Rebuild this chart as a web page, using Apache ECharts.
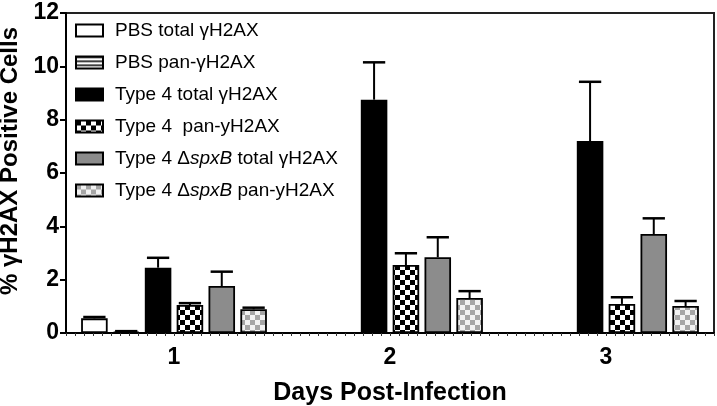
<!DOCTYPE html>
<html><head><meta charset="utf-8">
<script src="https://cdn.jsdelivr.net/npm/echarts@6/dist/echarts.min.js"></script>
<style>html,body{margin:0;padding:0;background:#fff}#c{width:717px;height:406px}</style>
</head><body><div id="c"></div>
<script>
var categories = ['1', '2', '3'];
var seriesNames = ['PBS total γH2AX', 'PBS pan-γH2AX', 'Type 4 total γH2AX', 'Type 4  pan-yH2AX', 'Type 4 ΔspxB total γH2AX', 'Type 4 ΔspxB pan-yH2AX'];
var pbsTotal = [0.55, null, null];
var pbsTotalErr = [0.6, null, null];
var pbsPan = [0.05, null, null];
var pbsPanErr = [0.07, null, null];
var t4Total = [2.45, 8.75, 7.2];
var t4TotalErr = [2.82, 10.15, 9.42];
var t4Pan = [1.05, 2.55, 1.09];
var t4PanErr = [1.12, 2.99, 1.34];
var dTotal = [1.76, 2.84, 3.71];
var dTotalErr = [2.3, 3.59, 4.3];
var dPan = [0.89, 1.31, 1.01];
var dPanErr = [0.95, 1.57, 1.2];
var yTicks = [0, 2, 4, 6, 8, 10, 12];

function pattern(size, draw) {
  var c = document.createElement('canvas');
  c.width = size; c.height = size;
  var ctx = c.getContext('2d');
  draw(ctx, size);
  return { image: c, repeat: 'repeat' };
}
var checkerBlack = pattern(10, function (ctx, s) {
  ctx.fillStyle = '#fff'; ctx.fillRect(0, 0, s, s);
  ctx.fillStyle = '#000'; ctx.fillRect(0, 0, 5, 5); ctx.fillRect(5, 5, 5, 5);
});
var checkerGray = pattern(10, function (ctx, s) {
  ctx.fillStyle = '#f2f2f2'; ctx.fillRect(0, 0, s, s);
  ctx.fillStyle = '#a6a6a6'; ctx.fillRect(0, 0, 5, 5); ctx.fillRect(5, 5, 5, 5);
});
var stripes = pattern(4, function (ctx, s) {
  ctx.fillStyle = '#fff'; ctx.fillRect(0, 0, s, s);
  ctx.fillStyle = '#000'; ctx.fillRect(0, 0, s, 1.5);
});

var values = [pbsTotal, pbsPan, t4Total, t4Pan, dTotal, dPan];
var errs = [pbsTotalErr, pbsPanErr, t4TotalErr, t4PanErr, dTotalErr, dPanErr];
var fills = ['#fff', stripes, '#000', checkerBlack, '#8c8c8c', checkerGray];
var BAR_GAP = 0.2, CAT_GAP = 0.14, N = 6;

var series = values.map(function (v, i) {
  return {
    name: seriesNames[i], type: 'bar', data: v,
    barGap: '20%', barCategoryGap: '14%',
    itemStyle: { color: fills[i], borderColor: '#000', borderWidth: 1.8 },
    z: 3
  };
});

var errData = [];
errs.forEach(function (e, si) {
  e.forEach(function (val, ci) {
    if (val != null && values[si][ci] != null) errData.push([ci, si, values[si][ci], val]);
  });
});
series.push({
  type: 'custom', name: 'err', data: errData, z: 2, silent: true,
  encode: { x: 0, y: 3 },
  renderItem: function (params, api) {
    var ci = api.value(0), si = api.value(1);
    var base = api.coord([ci, api.value(2)]);
    var top = api.coord([ci, api.value(3)]);
    var band = api.size([1, 0])[0];
    var remain = band * (1 - CAT_GAP);
    var bw = remain / (N + (N - 1) * BAR_GAP);
    var total = N * bw + (N - 1) * bw * BAR_GAP;
    var x = base[0] - total / 2 + si * bw * (1 + BAR_GAP) + bw / 2;
    var cap = bw * 0.42;
    return {
      type: 'group', children: [
        { type: 'line', shape: { x1: x, y1: base[1], x2: x, y2: top[1] }, style: { stroke: '#000', lineWidth: 2 } },
        { type: 'line', shape: { x1: x - cap, y1: top[1], x2: x + cap, y2: top[1] }, style: { stroke: '#000', lineWidth: 2.5 } }
      ]
    };
  }
});

var chart = echarts.init(document.getElementById('c'), null, { renderer: 'canvas' });
chart.setOption({
  animation: false,
  backgroundColor: '#fff',
  textStyle: { fontFamily: 'Liberation Sans, Arial, sans-serif' },
  grid: { left: 66, right: 3, top: 13, bottom: 73, show: true, borderColor: '#222', borderWidth: 2,
    containLabel: false, outerBoundsMode: 'none' },
  legend: {
    data: seriesNames, orient: 'vertical', left: 75, top: 21, padding: 0,
    itemWidth: 27, itemHeight: 12, itemGap: 13, icon: 'rect',
    textStyle: {
      fontSize: 19, color: '#000', lineHeight: 19, padding: [0, 0, 0, 7],
      rich: { n: { fontSize: 19, color: '#000' }, i: { fontSize: 19, color: '#000', fontStyle: 'italic' } }
    },
    formatter: function (name) {
      if (name.indexOf('ΔspxB') >= 0) {
        var p = name.split('spxB');
        return '{n|' + p[0] + '}{i|spxB}{n|' + p[1] + '}';
      }
      return name;
    }
  },
  xAxis: [{
    type: 'category', data: categories,
    name: 'Days Post-Infection', nameLocation: 'middle', nameGap: 48,
    nameTextStyle: { fontSize: 25, fontWeight: 'bold', color: '#000' },
    axisLine: { lineStyle: { color: '#000', width: 2 } },
    axisTick: { alignWithLabel: true, length: 7, lineStyle: { color: '#000', width: 2 } },
    axisLabel: { fontSize: 23, fontWeight: 'bold', color: '#000', margin: 13 }
  }, {
    type: 'value', min: 0, max: 72, interval: 1, position: 'bottom',
    axisLine: { show: false }, axisLabel: { show: false }, splitLine: { show: false },
    axisTick: { length: 3, lineStyle: { color: '#333', width: 1 } }
  }],
  yAxis: {
    type: 'value', min: 0, max: 12, interval: 2,
    name: '% γH2AX Positive Cells', nameLocation: 'middle', nameGap: 44,
    nameTextStyle: { fontSize: 24, fontWeight: 'bold', color: '#000', padding: [0, 0, 0, 24] },
    axisLine: { show: true, lineStyle: { color: '#000', width: 2 } },
    axisTick: { show: true, length: 6, lineStyle: { color: '#000', width: 2 } },
    axisLabel: { fontSize: 23, fontWeight: 'bold', color: '#000', margin: 7,
      formatter: function (v) { return yTicks.indexOf(v) >= 0 ? String(v) : ''; } },
    splitLine: { show: false }
  },
  series: series
});
</script></body></html>
